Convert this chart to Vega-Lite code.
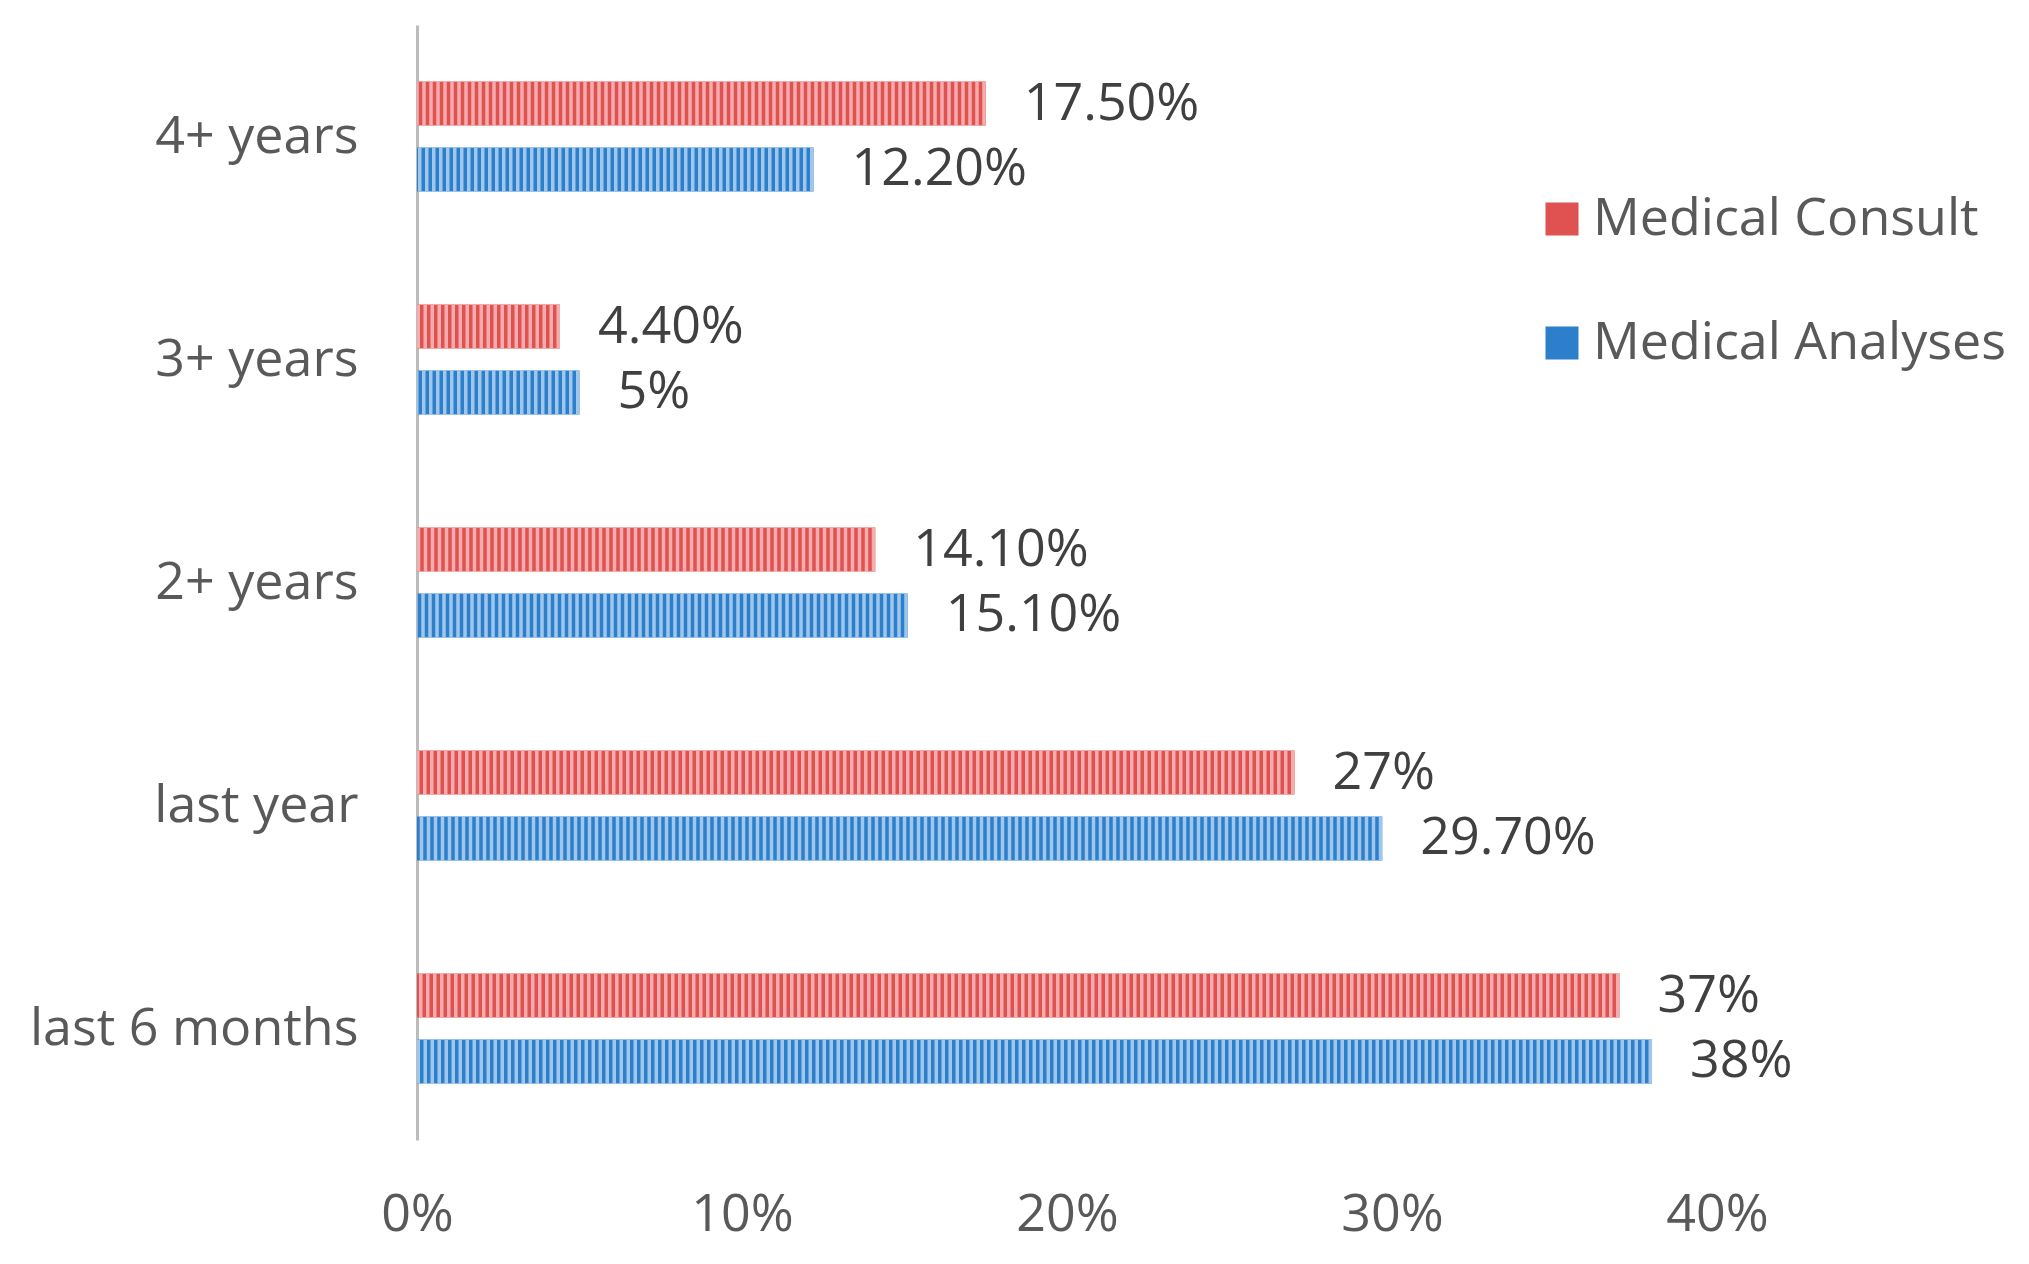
{
  "$schema": "https://vega.github.io/schema/vega-lite/v6.json",
  "autosize": {"type": "none"},
  "padding": {"left": 417, "top": 25, "right": 312, "bottom": 124},
  "width": 1300,
  "height": 1115,
  "background": "white",
  "config": {
    "view": {"stroke": null},
    "font": "Open Sans",
    "text": {"font": "Open Sans"}
  },
  "data": {
    "values": [
      {"period": "4+ years", "series": "Medical Consult", "value": 0.175, "label": "17.50%"},
      {"period": "4+ years", "series": "Medical Analyses", "value": 0.122, "label": "12.20%"},
      {"period": "3+ years", "series": "Medical Consult", "value": 0.044, "label": "4.40%"},
      {"period": "3+ years", "series": "Medical Analyses", "value": 0.05, "label": "5%"},
      {"period": "2+ years", "series": "Medical Consult", "value": 0.141, "label": "14.10%"},
      {"period": "2+ years", "series": "Medical Analyses", "value": 0.151, "label": "15.10%"},
      {"period": "last year", "series": "Medical Consult", "value": 0.27, "label": "27%"},
      {"period": "last year", "series": "Medical Analyses", "value": 0.297, "label": "29.70%"},
      {"period": "last 6 months", "series": "Medical Consult", "value": 0.37, "label": "37%"},
      {"period": "last 6 months", "series": "Medical Analyses", "value": 0.38, "label": "38%"}
    ]
  },
  "encoding": {
    "y": {
      "field": "period",
      "type": "nominal",
      "sort": ["4+ years", "3+ years", "2+ years", "last year", "last 6 months"],
      "scale": {"paddingInner": 0.507, "paddingOuter": 0.2535},
      "axis": {
        "title": null,
        "ticks": false,
        "domain": true,
        "domainColor": "#bcbcbc",
        "domainWidth": 3,
        "labelFontSize": 52,
        "labelColor": "#595959",
        "labelFont": "Open Sans",
        "labelLimit": 1000,
        "labelPadding": 59
      }
    },
    "yOffset": {
      "field": "series",
      "type": "nominal",
      "sort": ["Medical Consult", "Medical Analyses"],
      "scale": {"paddingInner": 0.333, "paddingOuter": 0}
    },
    "x": {
      "field": "value",
      "type": "quantitative",
      "scale": {"domain": [0, 0.4], "nice": false},
      "axis": {
        "title": null,
        "format": ".0%",
        "values": [0, 0.1, 0.2, 0.3, 0.4],
        "grid": false,
        "domain": false,
        "ticks": false,
        "labelFlush": false,
        "labelFontSize": 52,
        "labelColor": "#595959",
        "labelFont": "Open Sans",
        "labelPadding": 49
      }
    }
  },
  "layer": [
    {
      "mark": {"type": "bar"},
      "encoding": {
        "fill": {
          "field": "series",
          "type": "nominal",
          "sort": ["Medical Consult", "Medical Analyses"],
          "scale": {"domain": ["Medical Consult", "Medical Analyses"], "range": ["#e05252", "#2e7fcb"]},
          "legend": {
            "title": null,
            "orient": "none",
            "legendX": 1119,
            "legendY": 168,
            "symbolType": "square",
            "symbolSize": 1089,
            "symbolStrokeWidth": 0,
            "labelFontSize": 52,
            "labelFont": "Open Sans",
            "labelColor": "#595959",
            "labelLimit": 1000,
            "labelOffset": 5,
            "rowPadding": 72
          }
        }
      }
    },
    {
      "mark": {"type": "rule", "strokeWidth": 44, "strokeDash": [3.5, 3.5], "strokeCap": "butt"},
      "encoding": {
        "x2": {"datum": 0},
        "stroke": {
          "field": "series",
          "type": "nominal",
          "scale": {"domain": ["Medical Consult", "Medical Analyses"], "range": ["#f4acac", "#9fc7eb"]},
          "legend": null
        }
      }
    },
    {
      "mark": {"type": "text", "align": "left", "baseline": "middle", "dx": 38, "fontSize": 52, "font": "Open Sans", "color": "#404040"},
      "encoding": {
        "text": {"field": "label"}
      }
    }
  ]
}
